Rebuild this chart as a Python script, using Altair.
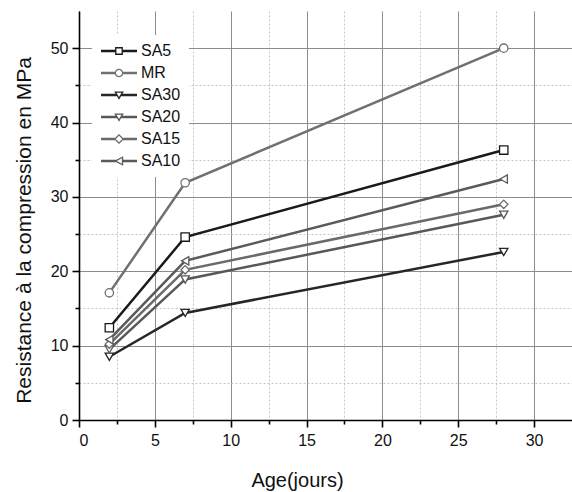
import altair as alt
import pandas as pd

# Compressive strength (MPa) versus curing age (days)
ages = [2, 7, 28]
series = ["SA5", "MR", "SA30", "SA20", "SA15", "SA10"]
sa5 = [12.4, 24.6, 36.3]
mr = [17.1, 31.9, 50.0]
sa30 = [8.5, 14.4, 22.6]
sa20 = [9.5, 18.9, 27.6]
sa15 = [10.2, 20.2, 29.0]
sa10 = [10.8, 21.4, 32.4]

colors = ["#1a1a1a", "#707070", "#262626", "#585858", "#6a6a6a", "#5a5a5a"]
shapes = ["square", "circle", "triangle-down", "triangle-down", "diamond", "triangle-left"]

# Legend glyphs: thick line stubs on both sides of an outlined marker (ring drawn as a hole)
stub_l = "M-3,-0.2H{a}V0.2H-3Z"
stub_r = "M{a},-0.2H3V0.2H{a}Z"
legend_paths = [
    # square
    stub_l.format(a=-0.62) + stub_r.format(a=0.62)
    + "M-0.65,-0.65H0.65V0.65H-0.65Z M-0.43,-0.43V0.43H0.43V-0.43Z",
    # circle
    stub_l.format(a=-0.68) + stub_r.format(a=0.68)
    + "M-0.72,0A0.72,0.72,0,1,1,0.72,0A0.72,0.72,0,1,1,-0.72,0Z"
    + "M-0.5,0A0.5,0.5,0,1,0,0.5,0A0.5,0.5,0,1,0,-0.5,0Z",
    # triangle down
    stub_l.format(a=-0.38) + stub_r.format(a=0.38)
    + "M-0.8,-0.6L0.8,-0.6L0,0.8Z M-0.418,-0.378L0,0.353L0.418,-0.378Z",
    stub_l.format(a=-0.38) + stub_r.format(a=0.38)
    + "M-0.8,-0.6L0.8,-0.6L0,0.8Z M-0.418,-0.378L0,0.353L0.418,-0.378Z",
    # diamond
    stub_l.format(a=-0.62) + stub_r.format(a=0.62)
    + "M-0.85,0L0,-0.85L0.85,0L0,0.85Z M-0.54,0L0,0.54L0.54,0L0,-0.54Z",
    # triangle left
    stub_l.format(a=-0.45) + stub_r.format(a=0.7)
    + "M-0.85,0L0.7,-0.8L0.7,0.8Z M-0.37,0L0.48,0.438L0.48,-0.438Z",
]

values = [sa5, mr, sa30, sa20, sa15, sa10]
rows = []
for name, vals in zip(series, values):
    for a, v in zip(ages, vals):
        rows.append({"age": a, "strength": v, "series": name})
df = pd.DataFrame(rows)

FONT = "Liberation Sans"

x_axis = alt.Axis(
    values=[i * 2.5 for i in range(13)],
    labelExpr="datum.value % 5 == 0 ? datum.label : ''",
    title="Age(jours)",
    titleFont=FONT, titleFontSize=20, titleFontWeight="normal", titleColor="#111",
    titleX=218, titleY=66, titleBaseline="alphabetic", titleAlign="center",
    labelFont=FONT, labelFontSize=16, labelColor="#111", labelPadding=5,
    domainColor="#000", domainWidth=1.6,
    tickColor="#000", tickWidth=1.6,
    tickSize={"condition": {"test": "datum.value % 5 != 0", "value": 4}, "value": 7},
    grid=True,
    gridColor={"condition": {"test": "datum.value % 5 != 0", "value": "#c4c4c4"}, "value": "#8c8c8c"},
    gridDash={"condition": {"test": "datum.value % 5 != 0", "value": [2, 2]}, "value": []},
    gridWidth=1,
)

y_axis = alt.Axis(
    values=[i * 5 for i in range(11)],
    labelExpr="datum.value % 10 == 0 ? datum.label : ''",
    title="Resistance à la compression en MPa",
    titleFont=FONT, titleFontSize=21, titleFontWeight="normal", titleColor="#111",
    titleX=-49, titleY=219, titleBaseline="alphabetic", titleAlign="center",
    labelFont=FONT, labelFontSize=16, labelColor="#111", labelPadding=4,
    domainColor="#000", domainWidth=1.6,
    tickColor="#000", tickWidth=1.6,
    tickSize={"condition": {"test": "datum.value % 10 != 0", "value": 4}, "value": 7},
    grid=True,
    gridColor={"condition": {"test": "datum.value % 10 != 0", "value": "#c4c4c4"}, "value": "#8c8c8c"},
    gridDash={"condition": {"test": "datum.value % 10 != 0", "value": [2, 2]}, "value": []},
    gridWidth=1,
)

base = alt.Chart(df).encode(
    x=alt.X("age:Q", scale=alt.Scale(domain=[0, 32.5], nice=False), axis=x_axis),
    y=alt.Y("strength:Q", scale=alt.Scale(domain=[0, 55], nice=False), axis=y_axis),
    order=alt.Order("age:Q"),
)

color_scale = alt.Scale(domain=series, range=colors)

lines = base.mark_line(strokeWidth=2.5).encode(
    color=alt.Color("series:N", scale=color_scale, legend=None),
)

points = base.mark_point(filled=False, fill="white", size=70, strokeWidth=1.3, opacity=1).encode(
    color=alt.Color("series:N", scale=color_scale, legend=None),
    shape=alt.Shape("series:N", scale=alt.Scale(domain=series, range=shapes), legend=None),
)

legend_def = dict(
    title=None, orient="none", legendX=13, legendY=24, direction="vertical",
    padding=8, fillColor="white", symbolSize=144, symbolStrokeWidth=0,
    symbolOpacity=1, symbolOffset=11, labelOffset=14, rowPadding=6,
    labelFont=FONT, labelFontSize=16, labelColor="#111",
)

legend_layer = base.mark_point(filled=True, opacity=0).encode(
    color=alt.Color("series:N", scale=color_scale, legend=alt.Legend(**legend_def)),
    shape=alt.Shape("series:N", scale=alt.Scale(domain=series, range=legend_paths),
                    legend=alt.Legend(**legend_def)),
)

chart = (
    alt.layer(lines, points, legend_layer)
    .resolve_scale(shape="independent", color="independent")
    .properties(
        width=493, height=409,
        autosize=alt.AutoSizeParams(type="none"),
        padding={"left": 79, "top": 11, "right": 0, "bottom": 72},
        background="white",
    )
    .configure_view(stroke=None)
)

chart.save("out.html", embed_options={"renderer": "svg", "actions": False})
